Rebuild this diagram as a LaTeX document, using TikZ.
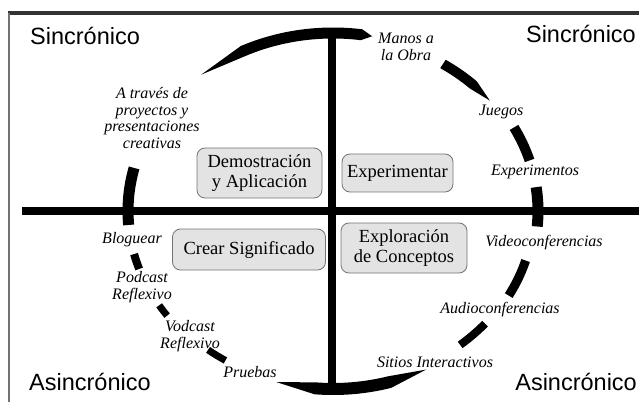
\documentclass[tikz,border=0pt]{standalone}
\usepackage{fontspec}
\setmainfont{Liberation Serif}
\newfontfamily\arialfont{Liberation Sans}
\usepackage{tikz}
\usetikzlibrary{positioning}

\begin{document}
\begin{tikzpicture}[x=1pt, y=1pt,
        box/.style={draw=black!55, fill=black!11, rounded corners=8pt, thick, align=center,
            inner sep=0pt, font=\fontsize{18.5}{20.5}\selectfont},
        lbl/.style={align=center, inner sep=0pt, font=\fontsize{16}{16.5}\selectfont\itshape},
        corner/.style={inner sep=0pt, font=\arialfont\fontsize{23.5}{24}\selectfont},
        ring/.style={line width=#1, black},
        ring/.default=9pt]
        \useasboundingbox (0,0) rectangle (639,402);

        % frame and axes
        \draw[line width=3.5pt, black!80] (8,389) -- (639,389);
        \draw[line width=2pt, black!55] (9,389) -- (9,0);
        \draw[line width=8pt] (22,191) -- (639,191);
        \draw[line width=8pt] (331.5,371) -- (331.5,8);

        % dashed ring, plain pieces
        \coordinate (c) at (333,191);
        \foreach \a/\b/\w/\r in {16.5/28/10pt/1, -5/7.7/11pt/1,
                -29/-16.5/9pt/0.98, -50.5/-40.5/8pt/0.975, -128/-122/7pt/0.99,
                -148/-144/7pt/1, -166/-161/8pt/1, 166/184.5/11pt/1} {
            \pgfmathsetmacro{\rx}{205*\r}
            \pgfmathsetmacro{\ry}{178*\r}
            \draw[ring=\w] ([shift={(\a:{\rx} and {\ry})}]c)
                arc[start angle=\a, end angle=\b, x radius=\rx, y radius=\ry];
        }
        % dashed ring, pieces with pointed ends
        \foreach \a/\b/\w/\ta/\tb/\r in {79/130/11/3/14/1, 39/57/10/7/0/0.985, -106/-63/12/11/11/1} {
            \pgfmathsetmacro{\aa}{\a+\ta}
            \pgfmathsetmacro{\bb}{\b-\tb}
            \pgfmathsetmacro{\rx}{205*\r}
            \pgfmathsetmacro{\ry}{178*\r}
            \pgfmathsetmacro{\ox}{\rx+\w/2}
            \pgfmathsetmacro{\oy}{\ry+\w/2}
            \pgfmathsetmacro{\ix}{\rx-\w/2}
            \pgfmathsetmacro{\iy}{\ry-\w/2}
            \fill ([shift={(\a:{\rx} and {\ry})}]c)
                -- ([shift={(\aa:{\ox} and {\oy})}]c)
                arc[start angle=\aa, end angle=\bb, x radius=\ox, y radius=\oy]
                -- ([shift={(\b:{\rx} and {\ry})}]c)
                -- ([shift={(\bb:{\ix} and {\iy})}]c)
                arc[start angle=\bb, end angle=\aa, x radius=\ix, y radius=\iy]
                -- cycle;
        }

        % quadrants
        \node[corner, anchor=base west] (sTL) at (30,357) {Sincrónico};
        \node[corner, anchor=base east] (sTR) at (636,359) {Sincrónico};
        \node[corner, anchor=base west] (aBL) at (29,12) {Asincrónico};
        \node[corner, anchor=base east] (aBR) at (637,12) {Asincrónico};

        % boxes
        \node[box, minimum width=125pt, minimum height=50pt] (demo) at (259.5,229) {Demostración\\y Aplicación};
        \node[box, minimum width=111pt, minimum height=38pt] (exper) at (397.5,229) {Experimentar};
        \node[box, minimum width=153pt, minimum height=41pt] (crear) at (249,152.5) {Crear Significado};
        \node[box, minimum width=126pt, minimum height=50pt] (explo) at (404,154) {Exploración\\de Conceptos};

        % activities
        \node[lbl] (manos) at (406,355) {Manos a\\la Obra};
        \node[lbl] (juegos) at (501,290) {Juegos};
        \node[lbl] (expmt) at (535,230) {Experimentos};
        \node[lbl] (video) at (544,159) {Videoconferencias};
        \node[lbl] (audio) at (500,92) {Audioconferencias};
        \node[lbl] (sitios) at (435,40) {Sitios Interactivos};
        \node[lbl] (pruebas) at (250,30) {Pruebas};
        \node[lbl] (vodcast) at (190,66) {Vodcast\\Reflexivo};
        \node[lbl] (podcast) at (142,115) {Podcast\\Reflexivo};
        \node[lbl] (blog) at (132,162) {Bloguear};
        \node[lbl] (traves) at (152,284) {A través de\\proyectos y\\presentaciones\\creativas};
    \end{tikzpicture}
\end{document}
